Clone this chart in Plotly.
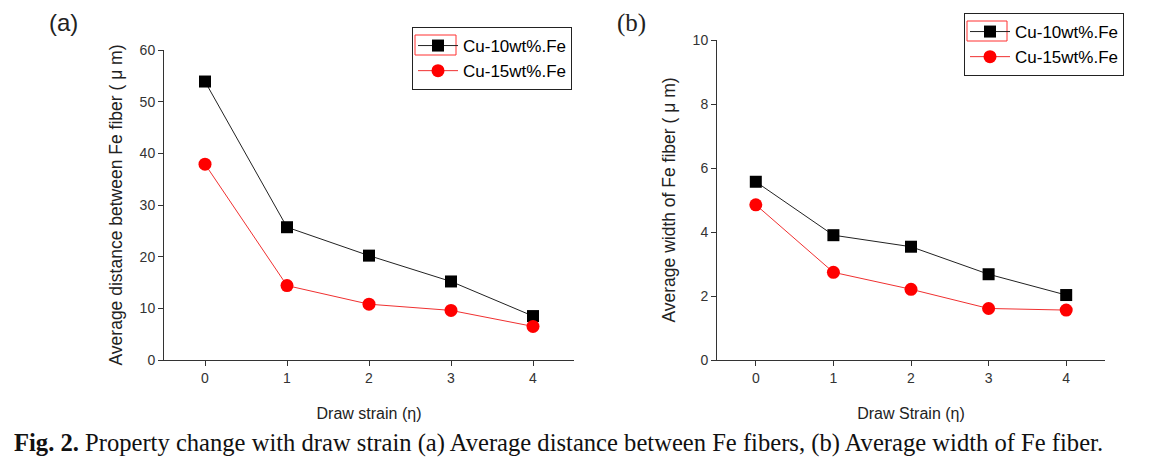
import plotly.graph_objects as go

strain = [0, 1, 2, 3, 4]
series_names = ["Cu-10wt%.Fe", "Cu-15wt%.Fe"]
dist_cu10 = [53.9, 25.7, 20.2, 15.2, 8.5]
dist_cu15 = [37.9, 14.4, 10.8, 9.6, 6.5]
width_cu10 = [5.57, 3.90, 3.54, 2.68, 2.03]
width_cu15 = [4.85, 2.74, 2.21, 1.61, 1.56]
x_ticks = [0, 1, 2, 3, 4]

# page body has an 8px margin; figure sized so the page fits the window exactly
OFF = 8
W, H = 1169 - 2 * OFF, 465 - 2 * OFF


def px(x):
    return (x - OFF) / W


def py(y):
    return 1 - (y - OFF) / H


fig = go.Figure()

styles = [
    dict(line=dict(color="#222222", width=1), marker=dict(symbol="square", size=12, color="black")),
    dict(line=dict(color="#f03030", width=1), marker=dict(symbol="circle", size=13, color="#ff0000")),
]

for i, ys in enumerate([dist_cu10, dist_cu15]):
    fig.add_trace(go.Scatter(x=strain, y=ys, mode="lines+markers", name=series_names[i],
                             xaxis="x", yaxis="y", legend="legend", **styles[i]))
for i, ys in enumerate([width_cu10, width_cu15]):
    fig.add_trace(go.Scatter(x=strain, y=ys, mode="lines+markers", name=series_names[i],
                             xaxis="x2", yaxis="y2", legend="legend2", **styles[i]))

tickfont = dict(family="Liberation Sans, Arial", size=14, color="#333333")
xtitlefont = dict(family="Liberation Sans, Arial", size=16, color="#222222")
ytitlefont = dict(family="Liberation Sans, Arial", size=17.5, color="#222222")
axis_common = dict(showline=True, linecolor="#333333", linewidth=1, ticks="outside",
                   ticklen=5, tickcolor="#333333", showgrid=False, zeroline=False,
                   tickfont=tickfont, mirror=False, automargin=False)

legend_common = dict(xanchor="left", yanchor="top", bordercolor="#222222", borderwidth=1,
                     bgcolor="rgba(255,255,255,0)",
                     font=dict(family="Liberation Sans, Arial", size=17, color="black"),
                     tracegroupgap=0, itemwidth=40)

# thin red frame around the first legend symbol (as in the original figure)
red_frames = [
    dict(type="rect", xref="paper", yref="paper", x0=px(415), x1=px(456), y0=py(55), y1=py(35),
         line=dict(color="#ff3030", width=1), fillcolor="rgba(0,0,0,0)", layer="above"),
    dict(type="rect", xref="paper", yref="paper", x0=px(967), x1=px(1007), y0=py(41), y1=py(21),
         line=dict(color="#ff3030", width=1), fillcolor="rgba(0,0,0,0)", layer="above"),
]

fig.update_layout(
    width=W, height=H,
    margin=dict(l=0, r=0, t=0, b=0, autoexpand=False),
    plot_bgcolor="white", paper_bgcolor="white",
    xaxis=dict(domain=[px(164), px(574)], range=[-0.5, 4.5], tickvals=x_ticks,
               title=dict(text="Draw strain (η)", font=xtitlefont, standoff=23),
               anchor="y", **axis_common),
    yaxis=dict(domain=[py(360), py(50)], range=[0, 60], dtick=10,
               title=dict(text="Average distance between Fe fiber ( μ m)", font=ytitlefont, standoff=12),
               anchor="x", **axis_common),
    xaxis2=dict(domain=[px(717), px(1105)], range=[-0.5, 4.5], tickvals=x_ticks,
                title=dict(text="Draw Strain (η)", font=xtitlefont, standoff=23),
                anchor="y2", **axis_common),
    yaxis2=dict(domain=[py(360), py(40)], range=[0, 10], dtick=2,
                title=dict(text="Average width of Fe fiber ( μ m)", font=ytitlefont, standoff=12),
                anchor="x2", **axis_common),
    legend=dict(x=px(412), y=py(27), **legend_common),
    legend2=dict(x=px(964), y=py(13), **legend_common),
    shapes=red_frames,
    annotations=[
        dict(text="(a)", x=px(63), y=py(23), xref="paper", yref="paper", showarrow=False,
             xanchor="center", yanchor="middle",
             font=dict(family="Liberation Sans, Arial", size=24, color="#222222")),
        dict(text="(b)", x=px(631), y=py(23), xref="paper", yref="paper", showarrow=False,
             xanchor="center", yanchor="middle",
             font=dict(family="Liberation Serif, Times New Roman", size=25, color="#222222")),
        dict(text="<b>Fig. 2.</b> Property change with draw strain (a) Average distance between Fe fibers, (b) Average width of Fe fiber.",
             x=px(12), y=py(443), xref="paper", yref="paper", xanchor="left", yanchor="middle",
             showarrow=False,
             font=dict(family="Liberation Serif, Times New Roman", size=24.6, color="#111111")),
    ],
)

fig.write_html("out.html")
